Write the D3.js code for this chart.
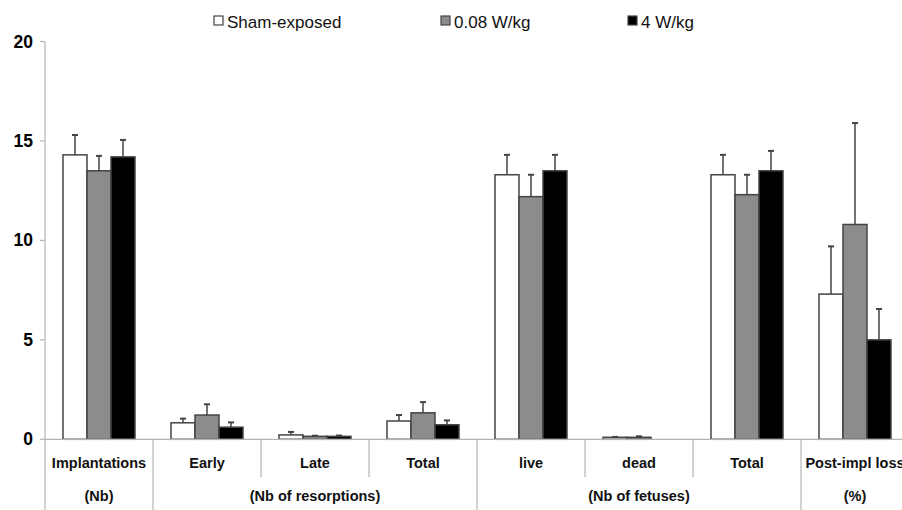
<!DOCTYPE html>
<html>
<head>
<meta charset="utf-8">
<script src="https://cdn.jsdelivr.net/npm/d3@7"></script>
<style>
  body { margin: 0; background: #fff; }
  svg { font-family: "Liberation Sans", Arial, sans-serif; }
</style>
</head>
<body>
<svg id="chart" width="902" height="510"></svg>
<script>
// categories along the x axis, and the group each one belongs to
const categories = ["Implantations", "Early", "Late", "Total", "live", "dead", "Total ", "Post-impl loss"];
const groups = [
  { label: "(Nb)", from: 0, to: 0 },
  { label: "(Nb of resorptions)", from: 1, to: 3 },
  { label: "(Nb of fetuses)", from: 4, to: 6 },
  { label: "(%)", from: 7, to: 7 }
];
const seriesNames = ["Sham-exposed", "0.08 W/kg", "4 W/kg"];
const seriesColors = ["#ffffff", "#8c8c8c", "#000000"];

// mean values
const shamValues = [14.3, 0.83, 0.22, 0.92, 13.3, 0.1, 13.3, 7.3];
const lowValues  = [13.5, 1.22, 0.15, 1.33, 12.2, 0.1, 12.3, 10.8];
const highValues = [14.2, 0.61, 0.15, 0.73, 13.5, 0, 13.5, 5.0];
// top of the error bars
const shamErrTop = [15.3, 1.04, 0.37, 1.22, 14.3, 0.12, 14.3, 9.7];
const lowErrTop  = [14.25, 1.76, 0.18, 1.87, 13.3, 0.15, 13.3, 15.9];
const highErrTop = [15.05, 0.85, 0.19, 0.95, 14.3, 0, 14.5, 6.55];

const yTicks = [0, 5, 10, 15, 20];

const values = [shamValues, lowValues, highValues];
const errTops = [shamErrTop, lowErrTop, highErrTop];

const svg = d3.select("#chart");
const axisColor = "#b4b4b4";
const barStroke = "#444";

const x = d3.scaleBand()
    .domain(d3.range(categories.length))
    .range([45, 45 + 108 * categories.length])
    .paddingInner(0)
    .paddingOuter(0);

// excel style gap: bars take 2/3 of each category
const x1 = d3.scaleBand()
    .domain(d3.range(seriesNames.length))
    .range([0, x.bandwidth()])
    .paddingOuter(0.75)
    .paddingInner(0);

const y = d3.scaleLinear().domain([0, 20]).range([439.3, 41.5]);

// y axis line and ticks
svg.append("line")
    .attr("x1", 45).attr("x2", 45)
    .attr("y1", y(20)).attr("y2", 510)
    .attr("stroke", axisColor).attr("stroke-width", 1.2);

yTicks.forEach(t => {
    svg.append("line")
        .attr("x1", 40).attr("x2", 45)
        .attr("y1", y(t)).attr("y2", y(t))
        .attr("stroke", axisColor).attr("stroke-width", 1.2);
    svg.append("text")
        .attr("x", 33).attr("y", y(t) + 6)
        .attr("text-anchor", "end")
        .attr("font-size", "17.5px")
        .attr("font-weight", "bold")
        .text(t);
});

// bars
categories.forEach((c, i) => {
    seriesNames.forEach((s, j) => {
        const v = values[j][i];
        if (v <= 0) return;
        const bx = x(i) + x1(j);
        svg.append("rect")
            .attr("x", bx)
            .attr("y", y(v))
            .attr("width", x1.bandwidth())
            .attr("height", y(0) - y(v))
            .attr("fill", seriesColors[j])
            .attr("stroke", barStroke)
            .attr("stroke-width", 1.5);
    });
});

// error bars (upper only)
categories.forEach((c, i) => {
    seriesNames.forEach((s, j) => {
        const v = values[j][i];
        const e = errTops[j][i];
        if (v <= 0 || e <= v) return;
        const cx = x(i) + x1(j) + x1.bandwidth() / 2;
        svg.append("line")
            .attr("x1", cx).attr("x2", cx)
            .attr("y1", y(v)).attr("y2", y(e))
            .attr("stroke", barStroke).attr("stroke-width", 1.5);
        svg.append("line")
            .attr("x1", cx - 3).attr("x2", cx + 3)
            .attr("y1", y(e)).attr("y2", y(e))
            .attr("stroke", barStroke).attr("stroke-width", 2);
    });
});

// x axis line
svg.append("line")
    .attr("x1", 45).attr("x2", 902)
    .attr("y1", y(0)).attr("y2", y(0))
    .attr("stroke", axisColor).attr("stroke-width", 1.2);

// dividers between categories
const groupStarts = groups.map(g => g.from);
categories.forEach((c, i) => {
    if (i === 0) return;
    const isGroup = groupStarts.includes(i);
    svg.append("line")
        .attr("x1", x(i)).attr("x2", x(i))
        .attr("y1", y(0)).attr("y2", isGroup ? 510 : 477)
        .attr("stroke", axisColor).attr("stroke-width", 1.2);
});

// category labels
categories.forEach((c, i) => {
    svg.append("text")
        .attr("x", x(i) + x.bandwidth() / 2)
        .attr("y", 468)
        .attr("text-anchor", "middle")
        .attr("font-size", "14.5px")
        .attr("font-weight", "bold")
        .attr("fill", "#111")
        .text(c.trim());
});

// group labels
groups.forEach(g => {
    const cx = (x(g.from) + x(g.to) + x.bandwidth()) / 2;
    svg.append("text")
        .attr("x", cx)
        .attr("y", 501)
        .attr("text-anchor", "middle")
        .attr("font-size", "14.5px")
        .attr("font-weight", "bold")
        .attr("fill", "#111")
        .text(g.label);
});

// legend
const legendX = [214, 441, 628];
seriesNames.forEach((s, j) => {
    svg.append("rect")
        .attr("x", legendX[j]).attr("y", 16)
        .attr("width", 9).attr("height", 9)
        .attr("fill", seriesColors[j])
        .attr("stroke", barStroke).attr("stroke-width", 1.2);
    svg.append("text")
        .attr("x", legendX[j] + 13).attr("y", 28)
        .attr("font-size", "17px")
        .attr("fill", "#111")
        .text(s);
});
</script>
</body>
</html>
